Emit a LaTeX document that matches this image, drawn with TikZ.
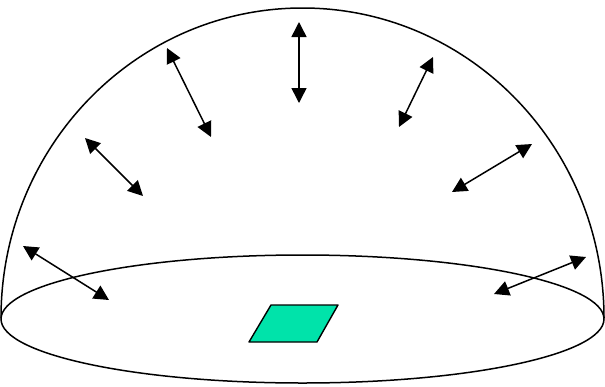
\documentclass[tikz,border=0pt]{standalone}
\usetikzlibrary{arrows.meta}
\definecolor{patch}{RGB}{0,227,170}
\tikzset{
  outline/.style={line width=1.5pt},
  ray/.style={line width=1.5pt, {Triangle[length=15pt,width=15pt]}-{Triangle[length=15pt,width=15pt]}},
  patchstyle/.style={fill=patch, draw=black, line width=1.4pt, line join=round}
}
\begin{document}
\begin{tikzpicture}[x=1pt,y=-1pt]
\useasboundingbox (0,0) rectangle (605,386);
% base ellipse and dome
\draw[outline] (302.5,319) ellipse [x radius=301.5pt, y radius=64pt];
\draw[outline] (1,318) arc[start angle=180, end angle=0, x radius=301.5pt, y radius=310pt];
% surface patch
\coordinate (p1) at (249,342);
\coordinate (p2) at (271,305);
\coordinate (p3) at (338,305);
\coordinate (p4) at (317,342);
\draw[patchstyle] (p1) -- (p2) -- (p3) -- (p4) -- cycle;
% rays
\coordinate (a1) at (299,22);  \coordinate (b1) at (299,103);
\coordinate (a2) at (167,48);  \coordinate (b2) at (211,137);
\coordinate (a3) at (433,57);  \coordinate (b3) at (399,127);
\coordinate (a4) at (85,138);  \coordinate (b4) at (143,196);
\coordinate (a5) at (532,144); \coordinate (b5) at (452,192);
\coordinate (a6) at (23,246);  \coordinate (b6) at (109,300);
\coordinate (a7) at (586,257); \coordinate (b7) at (494,294);
\foreach \i in {1,...,7} { \draw[ray] (a\i) -- (b\i); }
\end{tikzpicture}
\end{document}
